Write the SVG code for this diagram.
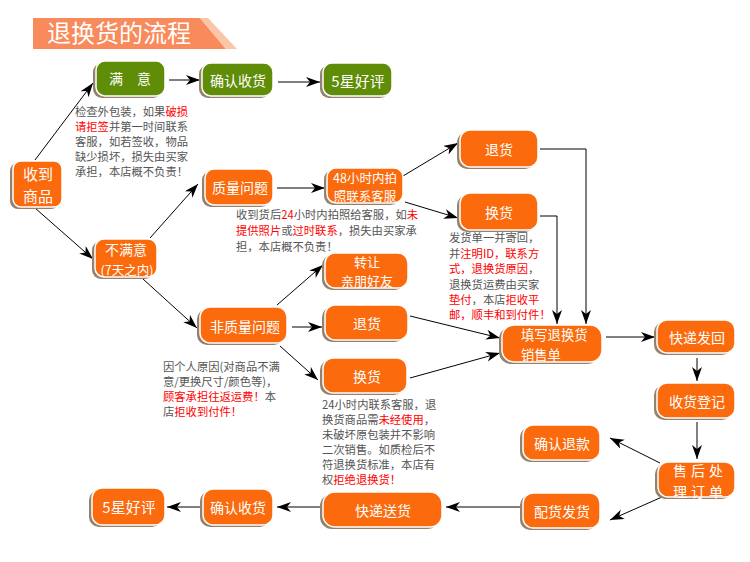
<svg xmlns="http://www.w3.org/2000/svg" width="750" height="562" viewBox="0 0 750 562">
<style>
.sh{fill:#95826c}
.o{fill:#fb6a0c;stroke:#fff;stroke-width:1.5}
.g{fill:#5f8d08;stroke:#fff;stroke-width:1.5}
.t{font-family:"Noto Sans CJK SC","Liberation Sans",sans-serif;fill:#fff;font-size:14px;text-anchor:middle;dominant-baseline:central}
.a{font-family:"Noto Sans CJK SC","Liberation Sans",sans-serif;fill:#555;font-size:11.3px}
.r{fill:#f00}
.c{stroke:#000;stroke-width:1;fill:none;marker-end:url(#ah)}
</style>
<defs>
<marker id="ah" markerUnits="userSpaceOnUse" markerWidth="15" markerHeight="11" refX="14" refY="5" orient="auto">
<path d="M0,0 L14,5 L0,10 L4,5 Z" fill="#000"/>
</marker>
</defs>
<rect width="750" height="562" fill="#fff"/>
<g id="title">
<polygon points="33,18 200,18 226,49 33,49" fill="#f98a5c"/>
<polygon points="200,18 208,18 237,49 226,49" fill="#fbc6a8"/>
<text x="47" y="42" font-family="Noto Sans CJK SC,Liberation Sans,sans-serif" font-size="24" fill="#fff">退换货的流程</text>
</g>
<g id="connectors">
<path class="c" d="M35,160 L93,83"/>
<path class="c" d="M35,208 L93,259"/>
<path class="c" d="M150,238 L198,184"/>
<path class="c" d="M143,279 L197,328"/>
<path class="c" d="M277,188 L325,188"/>
<path class="c" d="M403,176 L458,143"/>
<path class="c" d="M405,202 L458,218"/>
<path class="c" d="M540,149 L586,149 L586,324"/>
<path class="c" d="M540,216 L557,216 L557,324"/>
<path class="c" d="M277,305 L323,265"/>
<path class="c" d="M292,327 L322,327"/>
<path class="c" d="M280,346 L318,380"/>
<path class="c" d="M410,316 L500,338"/>
<path class="c" d="M410,378 L500,353"/>
<path class="c" d="M606,337 L655,337"/>
<path class="c" d="M697,358 L697,381"/>
<path class="c" d="M697,422 L697,459"/>
<path class="c" d="M660,463 L610,438"/>
<path class="c" d="M662,497 L610,520"/>
<path class="c" d="M520,507 L446,507"/>
<path class="c" d="M322,507 L277,507"/>
<path class="c" d="M203,507 L167,507"/>
<path class="c" d="M169,80 L200,80"/>
<path class="c" d="M278,82 L320,82"/>
</g>
<g id="n1"><rect class="sh" x="93" y="63" width="69" height="35" rx="9"/><rect class="g" x="96" y="61" width="69" height="35" rx="9"/><text class="t" x="137" y="78" style="letter-spacing:14px">满意</text></g>
<g id="n2"><rect class="sh" x="199" y="65" width="71" height="33" rx="9"/><rect class="g" x="202" y="63" width="71" height="33" rx="9"/><text class="t" x="238" y="80">确认收货</text></g>
<g id="n3"><rect class="sh" x="320" y="65" width="69" height="33" rx="9"/><rect class="g" x="323" y="63" width="69" height="33" rx="9"/><text class="t" x="358" y="80" style="font-size:15px">5星好评</text></g>
<g id="n4"><rect class="sh" x="10" y="163" width="49" height="46" rx="8"/><rect class="o" x="13" y="161" width="49" height="46" rx="8"/><text class="t" style="font-size:15px"><tspan x="38" y="173">收到</tspan><tspan x="38" y="195">商品</tspan></text></g>
<g id="n5"><rect class="sh" x="92" y="241" width="62" height="38" rx="9"/><rect class="o" x="95" y="239" width="62" height="38" rx="9"/><text class="t"><tspan x="126" y="249">不满意</tspan><tspan x="127" y="268.5" style="font-size:12.5px">(7天之内)</tspan></text></g>
<g id="n6"><rect class="sh" x="202" y="171" width="68" height="36" rx="9"/><rect class="o" x="205" y="169" width="68" height="36" rx="9"/><text class="t" x="240" y="187">质量问题</text></g>
<g id="n7"><rect class="sh" x="324" y="170" width="76" height="35" rx="9"/><rect class="o" x="327" y="168" width="76" height="35" rx="9"/><text class="t" style="font-size:12.5px"><tspan x="365" y="176.5">48小时内拍</tspan><tspan x="365" y="194.8">照联系客服</tspan></text></g>
<g id="n8"><rect class="sh" x="457" y="132" width="78" height="37" rx="10"/><rect class="o" x="460" y="130" width="78" height="37" rx="10"/><text class="t" x="499" y="149">退货</text></g>
<g id="n9"><rect class="sh" x="457" y="195" width="78" height="37" rx="10"/><rect class="o" x="460" y="193" width="78" height="37" rx="10"/><text class="t" x="499" y="212">换货</text></g>
<g id="n10"><rect class="sh" x="322" y="255" width="83" height="35" rx="10"/><rect class="o" x="325" y="253" width="83" height="35" rx="10"/><text class="t" style="font-size:13px"><tspan x="367" y="261">转让</tspan><tspan x="367" y="280">亲朋好友</tspan></text></g>
<g id="n11"><rect class="sh" x="197" y="309" width="87" height="36" rx="10"/><rect class="o" x="200" y="307" width="87" height="36" rx="10"/><text class="t" x="245" y="326">非质量问题</text></g>
<g id="n12"><rect class="sh" x="322" y="307" width="83" height="35" rx="10"/><rect class="o" x="325" y="305" width="83" height="35" rx="10"/><text class="t" x="367" y="323">退货</text></g>
<g id="n13"><rect class="sh" x="320" y="360" width="84" height="35" rx="10"/><rect class="o" x="323" y="358" width="84" height="35" rx="10"/><text class="t" x="367" y="376">换货</text></g>
<g id="n14"><rect class="sh" x="499" y="327" width="100" height="37" rx="12"/><rect class="o" x="502" y="325" width="100" height="37" rx="12"/><text class="t" style="text-anchor:start;font-size:13.3px"><tspan x="521" y="334">填写退换货</tspan><tspan x="521" y="353.5">销售单</tspan></text></g>
<g id="n15"><rect class="sh" x="654" y="322" width="78" height="33" rx="10"/><rect class="o" x="657" y="320" width="78" height="33" rx="10"/><text class="t" x="697" y="337">快递发回</text></g>
<g id="n16"><rect class="sh" x="654" y="385" width="78" height="35" rx="10"/><rect class="o" x="657" y="383" width="78" height="35" rx="10"/><text class="t" x="697" y="401">收货登记</text></g>
<g id="n17"><rect class="sh" x="520" y="427" width="77" height="35" rx="10"/><rect class="o" x="523" y="425" width="77" height="35" rx="10"/><text class="t" x="562" y="443">确认退款</text></g>
<g id="n18"><rect class="sh" x="655" y="464" width="77" height="35" rx="10"/><rect class="o" x="658" y="462" width="77" height="35" rx="10"/><text class="t" style="font-size:14px;letter-spacing:4px"><tspan x="700" y="470">售后处</tspan><tspan x="700" y="490.5">理订单</tspan></text></g>
<g id="n19"><rect class="sh" x="520" y="495" width="77" height="35" rx="10"/><rect class="o" x="523" y="493" width="77" height="35" rx="10"/><text class="t" x="562" y="511">配货发货</text></g>
<g id="n20"><rect class="sh" x="320" y="494" width="119" height="35" rx="12"/><rect class="o" x="323" y="492" width="119" height="35" rx="12"/><text class="t" x="383" y="510">快递送货</text></g>
<g id="n21"><rect class="sh" x="200" y="491" width="70" height="36" rx="10"/><rect class="o" x="203" y="489" width="70" height="36" rx="10"/><text class="t" x="238" y="507">确认收货</text></g>
<g id="n22"><rect class="sh" x="89" y="490" width="73" height="37" rx="10"/><rect class="o" x="92" y="488" width="73" height="37" rx="10"/><text class="t" x="129" y="506" style="font-size:15px">5星好评</text></g>
<g id="notes">
<text class="a" x="75" y="116">检查外包装，如果<tspan class="r">破损</tspan></text>
<text class="a" x="75" y="131"><tspan class="r">请拒签</tspan>并第一时间联系</text>
<text class="a" x="75" y="146">客服，如若签收，物品</text>
<text class="a" x="75" y="161">缺少损坏，损失由买家</text>
<text class="a" x="75" y="176">承担，本店概不负责！</text>
<text class="a" x="236" y="219">收到货后<tspan class="r">24</tspan>小时内拍照给客服，如<tspan class="r">未</tspan></text>
<text class="a" x="236" y="235"><tspan class="r">提供照片</tspan>或<tspan class="r">过时联系</tspan>，损失由买家承</text>
<text class="a" x="236" y="251">担，本店概不负责！</text>
<text class="a" x="449" y="242">发货单一并寄回，</text>
<text class="a" x="449" y="258">并<tspan class="r">注明ID，联系方</tspan></text>
<text class="a" x="449" y="273"><tspan class="r">式，退换货原因</tspan>，</text>
<text class="a" x="449" y="289">退换货运费由买家</text>
<text class="a" x="449" y="304"><tspan class="r">垫付</tspan>，本店<tspan class="r">拒收平</tspan></text>
<text class="a" x="449" y="319"><tspan class="r">邮，顺丰和到付件！</tspan></text>
<text class="a" x="163" y="371">因个人原因(对商品不满</text>
<text class="a" x="163" y="386">意/更换尺寸/颜色等)，</text>
<text class="a" x="163" y="401"><tspan class="r">顾客承担往返运费！</tspan>本</text>
<text class="a" x="163" y="416">店<tspan class="r">拒收到付件！</tspan></text>
<text class="a" x="322" y="409">24小时内联系客服，退</text>
<text class="a" x="322" y="424">换货商品需<tspan class="r">未经使用</tspan>，</text>
<text class="a" x="322" y="439">未破坏原包装并不影响</text>
<text class="a" x="322" y="454">二次销售。如质检后不</text>
<text class="a" x="322" y="469">符退换货标准，本店有</text>
<text class="a" x="322" y="484">权<tspan class="r">拒绝退换货！</tspan></text>
</g>
</svg>
